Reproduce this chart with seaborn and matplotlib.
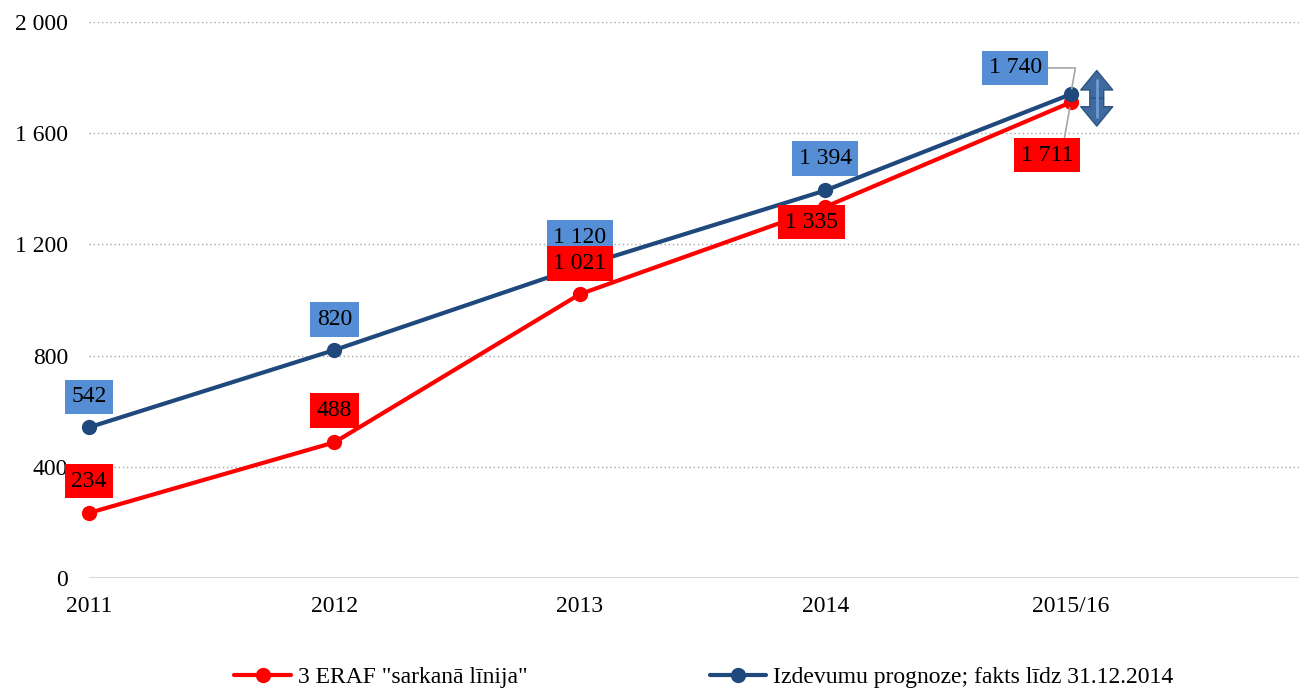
import pandas as pd
import numpy as np
import matplotlib.pyplot as plt
import seaborn as sns

# data
years = ["2011", "2012", "2013", "2014", "2015/16"]
red_line = [234, 488, 1021, 1335, 1711]
forecast = [542, 820, 1120, 1394, 1740]
red_name = '3 ERAF "sarkanā līnija"'
blue_name = "Izdevumu prognoze; fakts līdz 31.12.2014"
y_ticks = [0, 400, 800, 1200, 1600, 2000]

# label offsets (points) relative to each marker
red_offsets = [(0, 23), (0, 23), (0, 22), (-10, -11), (-17, -38)]
blue_offsets = [(0, 22), (0, 22), (0, 21), (0, 23), (-40, 19)]

RED = "#ff0000"
BLUE = "#1f497d"
BOX_BLUE = "#558ed5"
FS = 17

sns.set_style("white")
plt.rcParams["font.family"] = ["Liberation Serif", "DejaVu Serif"]
plt.rcParams["text.color"] = "black"
plt.rcParams["xtick.color"] = "black"
plt.rcParams["ytick.color"] = "black"

df = pd.DataFrame({
    "year": years * 2,
    "value": red_line + forecast,
    "series": [red_name] * len(years) + [blue_name] * len(years),
})

fig = plt.figure(figsize=(12.99, 6.89), dpi=100)
ax = fig.add_axes([89 / 1299, 1 - 578 / 689, 1 - 89 / 1299, (578 - 22) / 689])

sns.lineplot(data=df, x="year", y="value", hue="series", sort=False,
             palette=[RED, BLUE], marker="o", markersize=11,
             markeredgewidth=0, linewidth=3, ax=ax, legend=True)
for ln in ax.lines:
    ln.set_clip_on(False)

ax.set_xlim(0, 4.93)
ax.set_ylim(0, 2000)
ax.set_yticks(y_ticks)
ax.set_yticklabels([f"{t:,}".replace(",", " ") for t in y_ticks])
ax.set_xlabel("")
ax.set_ylabel("")
ax.tick_params(axis="y", length=0, pad=15, labelsize=FS, labelcolor="black")
ax.tick_params(axis="x", length=0, pad=13, labelsize=FS, labelcolor="black")
for t in y_ticks[1:]:
    ax.axhline(t, color="#a6a6a6", linestyle=(0, (1, 2)), linewidth=1, zorder=0)
ax.axhline(0, color="#d9d9d9", linewidth=1.5, zorder=0)
for s in ax.spines.values():
    s.set_visible(False)


def fmt(v):
    return f"{v:,}".replace(",", " ")


def add_labels(values, offsets, face, leader):
    for i, (v, off) in enumerate(zip(values, offsets)):
        props = None
        if leader and i == len(values) - 1:
            props = dict(arrowstyle="-", color="#a6a6a6", lw=1.2,
                         shrinkA=0, shrinkB=4, connectionstyle="angle,angleA=0,angleB=80")
        ax.annotate(fmt(v), xy=(i, v), xytext=off, textcoords="offset points",
                    ha="center", va="center", fontsize=FS, color="black", zorder=5,
                    bbox=dict(boxstyle="square,pad=0.28", fc=face, ec="none"),
                    arrowprops=props)


add_labels(forecast, blue_offsets, BOX_BLUE, True)
add_labels(red_line, red_offsets, RED, True)

# double headed arrow next to the last point (gap between the two series)
last = len(years) - 1
mid = (forecast[last] + red_line[last]) / 2
ax_x = last + 0.106
for end in (mid + 100, mid - 100):
    ax.annotate("", xy=(ax_x, end), xytext=(ax_x, mid),
                arrowprops=dict(arrowstyle="simple,head_length=0.7,head_width=1.15,tail_width=0.5",
                                mutation_scale=20, fc="#3e6aa0", ec="#2f5383", lw=1,
                                shrinkA=0, shrinkB=0),
                zorder=6, annotation_clip=False)
ax.plot([ax_x, ax_x], [mid - 70, mid + 70], color="#6f9bd3",
        linewidth=2, zorder=7, solid_capstyle="butt")

handles, labels = ax.get_legend_handles_labels()
ax.get_legend().remove()
fig.legend(handles, labels, loc="center", bbox_to_anchor=(704 / 1299, 1 - 677 / 689),
           ncol=2, frameon=False, fontsize=FS, columnspacing=7.7, handlelength=2.4,
           handletextpad=0.3)

fig.savefig("out.png", dpi=100)
